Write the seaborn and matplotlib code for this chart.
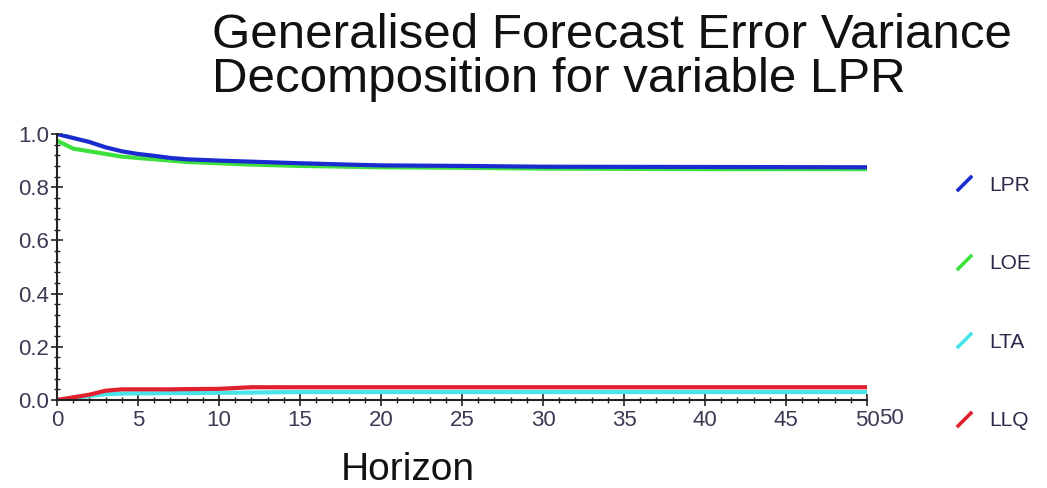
import matplotlib
matplotlib.use("Agg")
import matplotlib.pyplot as plt
from matplotlib.lines import Line2D
from matplotlib.path import Path
from matplotlib.ticker import MultipleLocator, FormatStrFormatter
import seaborn as sns
import pandas as pd

horizon = [0, 1, 2, 3, 4, 5, 6, 7, 8, 10, 12, 15, 18, 20, 25, 30, 40, 50]
lpr = [1.000, 0.985, 0.970, 0.950, 0.935, 0.925, 0.918, 0.910, 0.905, 0.900, 0.896, 0.890, 0.885, 0.882, 0.880, 0.877, 0.876, 0.875]
loe = [0.975, 0.945, 0.935, 0.925, 0.915, 0.910, 0.905, 0.900, 0.895, 0.890, 0.885, 0.880, 0.877, 0.875, 0.873, 0.870, 0.868, 0.868]
lta = [0.000, 0.008, 0.015, 0.022, 0.024, 0.025, 0.025, 0.026, 0.026, 0.027, 0.028, 0.030, 0.030, 0.030, 0.030, 0.030, 0.030, 0.030]
llq = [0.000, 0.010, 0.020, 0.035, 0.040, 0.040, 0.040, 0.040, 0.041, 0.042, 0.048, 0.048, 0.048, 0.048, 0.048, 0.048, 0.048, 0.048]
series_names = ["LPR", "LOE", "LTA", "LLQ"]
colors = ["#1a2bd0", "#3ee03e", "#48e4ea", "#e0202e"]

title_lines = ["Generalised Forecast Error Variance", "Decomposition for variable LPR"]
xlabel = "Horizon"

rows = []
for name, vals in zip(series_names, [lpr, loe, lta, llq]):
    for h, v in zip(horizon, vals):
        rows.append({"Horizon": h, "value": v, "series": name})
df = pd.DataFrame(rows)

sns.set_theme(style="white")
plt.rcParams["font.family"] = ["Liberation Sans", "DejaVu Sans"]

fig = plt.figure(figsize=(10.47, 4.88), dpi=100)
ax = fig.add_axes([57 / 1047, 1 - 400 / 488, (867 - 57) / 1047, (400 - 134) / 488])

draw_order = ["LOE", "LPR", "LTA", "LLQ"]
pal = dict(zip(series_names, colors))
sns.lineplot(data=df, x="Horizon", y="value", hue="series", hue_order=draw_order,
             palette=pal, linewidth=3.0, legend=False, ax=ax)

ax.set_xlim(0, 50)
ax.set_ylim(0, 1.0)
for s in ["top", "right"]:
    ax.spines[s].set_visible(False)
for s in ["left", "bottom"]:
    ax.spines[s].set_color("#222222")
    ax.spines[s].set_linewidth(1.5)

ax.xaxis.set_major_locator(MultipleLocator(5))
ax.xaxis.set_minor_locator(MultipleLocator(1))
ax.yaxis.set_major_locator(MultipleLocator(0.2))
ax.yaxis.set_minor_locator(MultipleLocator(0.04))
ax.yaxis.set_major_formatter(FormatStrFormatter("%.1f"))
ax.tick_params(axis="both", which="major", direction="inout", length=9, width=1.2,
               color="#222222", labelsize=16, labelcolor="#3a3a55")
ax.tick_params(axis="x", which="major", pad=3)
ax.tick_params(axis="y", which="major", pad=1)
ax.tick_params(axis="both", which="minor", direction="inout", length=5, width=1.0,
               color="#222222")
ax.tick_params(axis="x", which="both", bottom=True)
ax.tick_params(axis="y", which="both", left=True)
ax.set_xlabel("")
ax.set_ylabel("")

# duplicated end label as in the original
fig.text(879 / 1047, 1 - 418 / 488, "50", ha="left", va="center",
         fontsize=16, color="#3a3a55")

fig.text(408 / 1047, 1 - 470 / 488, xlabel, ha="center", va="center",
         fontsize=28, color="#111111")

fig.text(212 / 1047, 1 - 35 / 488, title_lines[0], ha="left", va="center",
         fontsize=35.5, color="#111111")
fig.text(212 / 1047, 1 - 80 / 488, title_lines[1], ha="left", va="center",
         fontsize=35.5, color="#111111")

slash = Path([(-1, -1), (1, 1)], [Path.MOVETO, Path.LINETO])
handles = [Line2D([], [], linestyle="none", marker=slash, markersize=11,
                  markerfacecolor="none", markeredgecolor=c, markeredgewidth=2.6)
           for c in colors]
leg = fig.legend(handles, series_names, loc="upper left",
                 bbox_to_anchor=(935 / 1047, 1 - 157 / 488), frameon=False,
                 fontsize=15, labelspacing=2.85, handlelength=1.0,
                 handletextpad=0.7)
for t in leg.get_texts():
    t.set_color("#2a2a4a")

fig.savefig("out.png", dpi=100)
